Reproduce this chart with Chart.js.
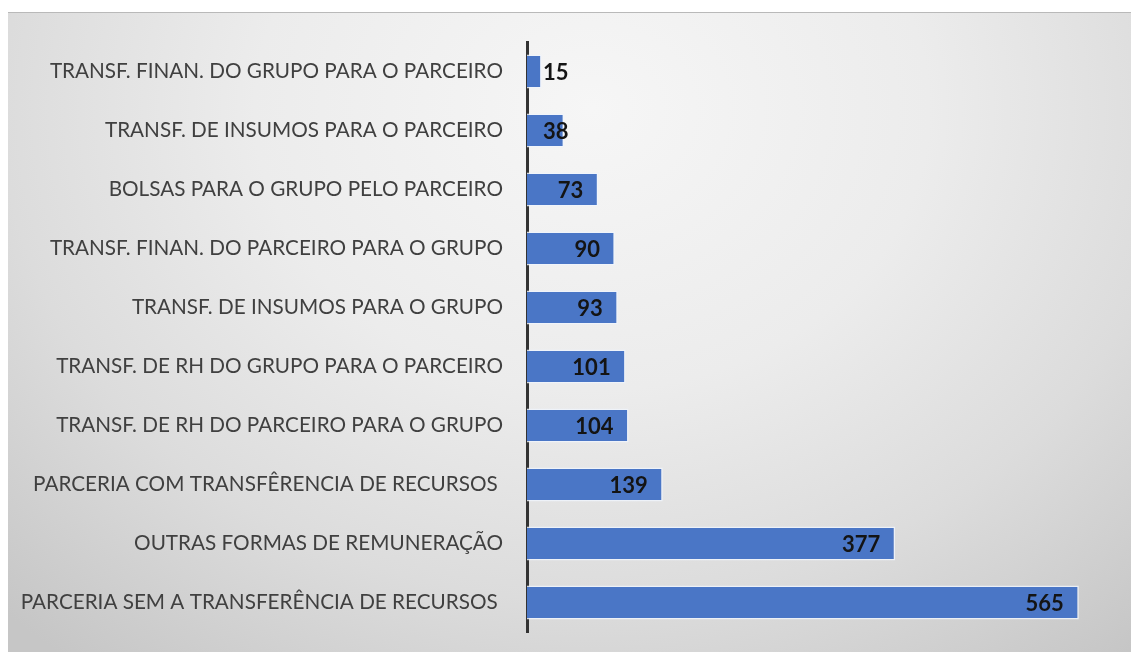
<!DOCTYPE html>
<html>
<head>
<meta charset="utf-8">
<script src="https://cdn.jsdelivr.net/npm/chart.js@4"></script>
<style>
  html, body { margin: 0; padding: 0; background: #fff; }
  #wrap { position: relative; width: 1131px; height: 652px; overflow: hidden; }
  #bg {
    position: absolute; left: 8px; top: 12px; right: 0; bottom: 0;
    border-top: 1px solid #b9b9b9;
    background: radial-gradient(ellipse 75% 110% at 52% 15%, #f6f6f6 0%, #ececec 40%, #dcdcdc 70%, #c6c6c6 100%);
  }
  canvas { position: absolute; left: 0; top: 0; }
</style>
</head>
<body>
<div id="wrap">
  <div id="bg"></div>
  <canvas id="chart" width="1131" height="652"></canvas>
</div>
<script>
const categories = [
  'TRANSF. FINAN. DO GRUPO PARA O PARCEIRO',
  'TRANSF. DE INSUMOS PARA O PARCEIRO',
  'BOLSAS PARA O GRUPO PELO PARCEIRO',
  'TRANSF. FINAN. DO PARCEIRO PARA O GRUPO',
  'TRANSF. DE INSUMOS PARA O GRUPO',
  'TRANSF. DE RH DO GRUPO PARA O PARCEIRO',
  'TRANSF. DE RH DO PARCEIRO PARA O GRUPO',
  'PARCERIA COM TRANSFÊRENCIA DE RECURSOS ',
  'OUTRAS FORMAS DE REMUNERAÇÃO',
  'PARCERIA SEM A TRANSFERÊNCIA DE RECURSOS '
];
const counts = [15, 38, 73, 90, 93, 101, 104, 139, 377, 565];
const xMax = 600;

// value labels near the end of each bar (Excel "inside end" look)
const valueLabels = {
  id: 'valueLabels',
  afterDatasetsDraw(chart) {
    const ctx = chart.ctx;
    const meta = chart.getDatasetMeta(0);
    const base = chart.scales.x.getPixelForValue(0);
    ctx.save();
    ctx.font = 'bold 22px Lato';
    ctx.fillStyle = '#141414';
    ctx.textBaseline = 'middle';
    ctx.textAlign = 'left';
    meta.data.forEach((bar, i) => {
      const txt = String(counts[i]);
      const w = ctx.measureText(txt).width;
      // short bars: label pushed out past the axis instead of overlapping it
      const left = Math.max(bar.x - 15 - w, base + 16);
      ctx.fillText(txt, left, bar.y + 1);
    });
    ctx.restore();
  }
};

new Chart(document.getElementById('chart'), {
  type: 'bar',
  data: {
    labels: categories,
    datasets: [{
      data: counts,
      backgroundColor: '#4a76c6',
      borderColor: 'rgba(240,244,252,0.85)',
      borderWidth: 1.5,
      borderSkipped: 'start',
      barPercentage: 0.58,
      categoryPercentage: 1
    }]
  },
  options: {
    indexAxis: 'y',
    responsive: false,
    animation: false,
    layout: { padding: { top: 42, bottom: 20, right: 18, left: 0 } },
    plugins: { legend: { display: false }, tooltip: { enabled: false } },
    scales: {
      x: { display: false, min: 0, max: xMax },
      y: {
        afterFit(scale) { scale.width = 527; scale.paddingTop = 0; scale.paddingBottom = 0; },
        grid: { display: false, drawTicks: false },
        border: { display: true, color: '#333', width: 3 },
        ticks: { color: '#404040', font: { family: 'Lato', size: 20.7 }, padding: 24 }
      }
    }
  },
  plugins: [valueLabels]
});
</script>
</body>
</html>
